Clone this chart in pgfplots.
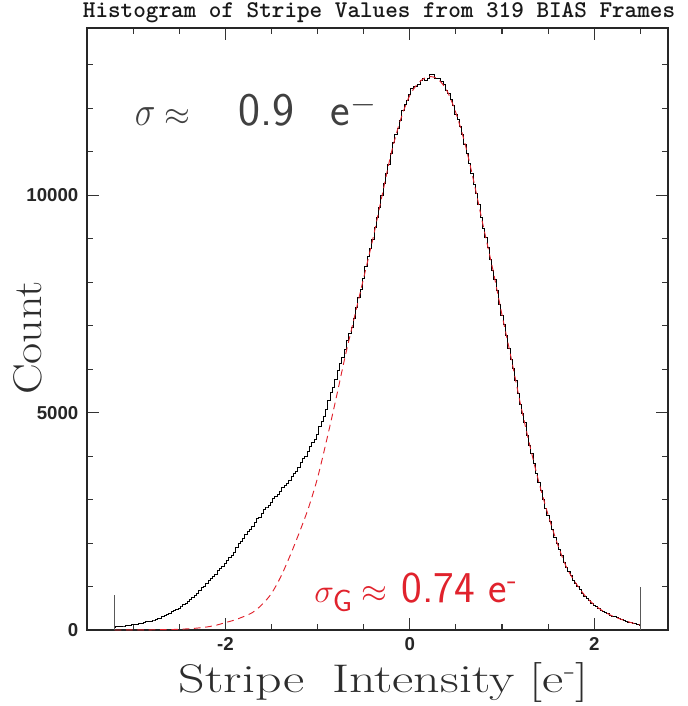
\documentclass[border=0pt]{standalone}
\usepackage{pgfplots}
\pgfplotsset{compat=1.18}
\usepackage{fontspec}
\newfontfamily\tickfont{Liberation Sans}
\definecolor{fitred}{RGB}{224,34,44}
\definecolor{txtgray}{RGB}{45,45,45}

\begin{document}
\begin{tikzpicture}
\begin{axis}[
  name=ax,
  at={(0,0)}, anchor=south west,
  scale only axis,
  width=435.75pt, height=451.5pt,
  xmin=-3.5, xmax=2.8, ymin=0, ymax=13850,
  scaled y ticks=false, scaled x ticks=false,
  xtick={-2,0,2}, xticklabels={-2,0,2},
  ytick={0,5000,10000}, yticklabels={0,5000,10000},
  minor xtick={-3,-2.5,-1.5,-1,-0.5,0.5,1,1.5,2.5},
  minor ytick={1000,2000,3000,4000,6000,7000,8000,9000,11000,12000,13000},
  tick align=inside,
  major tick length=9pt, minor tick length=4.5pt,
  axis line style={line width=0.9pt, black!85},
  every tick/.style={line width=0.8pt, black!80},
  ticklabel style={font=\tickfont\bfseries\fontsize{14}{14}\selectfont, text=black!85},
  yticklabel style={xshift=-3pt},
  xticklabel style={yshift=-2pt},
  title={\ttfamily\bfseries\fontsize{18}{18}\selectfont Histogram of Stripe Values from 319 BIAS Frames},
  title style={at={(axis description cs:0.5026,1.0035)}, anchor=base, inner sep=0pt, text=black!90},
  xlabel={\scalebox{1.3}[1]{\fontsize{30}{30}\selectfont Stripe\hspace{16pt}Intensity\hspace{9pt}[e\textsuperscript{-}]}},
  xlabel style={at={(axis description cs:0.511,-0.103)}, anchor=base, inner sep=0pt, text=txtgray},
  ylabel={\scalebox{1.15}[1]{\fontsize{30}{30}\selectfont Count}},
  ylabel style={at={(axis description cs:-0.0775,0.485)}, anchor=base, inner sep=0pt, text=txtgray},
]
% histogram of stripe values (bin centres, counts)
\addplot[const plot mark mid, black, line width=0.7pt] coordinates {
(-3.200,60) (-3.175,70) (-3.150,75) (-3.125,86) (-3.100,92) (-3.075,93) (-3.050,98) (-3.025,110)
(-3.000,118) (-2.975,122) (-2.950,132) (-2.925,148) (-2.900,158) (-2.875,170) (-2.850,190) (-2.825,194)
(-2.800,205) (-2.775,230) (-2.750,246) (-2.725,258) (-2.700,275) (-2.675,310) (-2.650,336) (-2.625,350)
(-2.600,372) (-2.575,418) (-2.550,455) (-2.525,474) (-2.500,503) (-2.475,552) (-2.450,590) (-2.425,615)
(-2.400,652) (-2.375,712) (-2.350,760) (-2.325,795) (-2.300,842) (-2.275,912) (-2.250,968) (-2.225,1005)
(-2.200,1060) (-2.175,1135) (-2.150,1195) (-2.125,1230) (-2.100,1280) (-2.075,1360) (-2.050,1420) (-2.025,1458)
(-2.000,1522) (-1.975,1605) (-1.950,1668) (-1.925,1720) (-1.900,1790) (-1.875,1905) (-1.850,1995) (-1.825,2040)
(-1.800,2110) (-1.775,2205) (-1.750,2275) (-1.725,2315) (-1.700,2380) (-1.675,2480) (-1.650,2555) (-1.625,2600)
(-1.600,2672) (-1.575,2765) (-1.550,2830) (-1.525,2865) (-1.500,2925) (-1.475,3015) (-1.450,3080) (-1.425,3118)
(-1.400,3180) (-1.375,3275) (-1.350,3335) (-1.325,3370) (-1.300,3440) (-1.275,3540) (-1.250,3605) (-1.225,3650)
(-1.200,3740) (-1.175,3860) (-1.150,3945) (-1.125,4000) (-1.100,4100) (-1.075,4225) (-1.050,4320) (-1.025,4390)
(-1.000,4510) (-0.975,4680) (-0.950,4805) (-0.925,4920) (-0.900,5080) (-0.875,5290) (-0.850,5455) (-0.825,5580)
(-0.800,5770) (-0.775,5980) (-0.750,6135) (-0.725,6270) (-0.700,6460) (-0.675,6660) (-0.650,6820) (-0.625,6960)
(-0.600,7160) (-0.575,7420) (-0.550,7640) (-0.525,7840) (-0.500,8090) (-0.475,8370) (-0.450,8600) (-0.425,8770)
(-0.400,8990) (-0.375,9270) (-0.350,9500) (-0.325,9720) (-0.300,9990) (-0.275,10270) (-0.250,10500) (-0.225,10700)
(-0.200,10960) (-0.175,11210) (-0.150,11400) (-0.125,11540) (-0.100,11720) (-0.075,11950) (-0.050,12100) (-0.025,12180)
(0.000,12320) (0.025,12450) (0.050,12510) (0.075,12500) (0.100,12560) (0.125,12650) (0.150,12680) (0.175,12640)
(0.200,12700) (0.225,12790) (0.250,12780) (0.275,12700) (0.300,12690) (0.325,12680) (0.350,12620) (0.375,12560)
(0.400,12420) (0.425,12340) (0.450,12200) (0.475,12060) (0.500,11860) (0.525,11750) (0.550,11580) (0.575,11390)
(0.600,11160) (0.625,10970) (0.650,10740) (0.675,10510) (0.700,10240) (0.725,10050) (0.750,9800) (0.775,9500)
(0.800,9240) (0.825,9040) (0.850,8800) (0.875,8520) (0.900,8280) (0.925,8060) (0.950,7800) (0.975,7490)
(1.000,7230) (1.025,7020) (1.050,6770) (1.075,6480) (1.100,6230) (1.125,6010) (1.150,5740) (1.175,5440)
(1.200,5180) (1.225,4990) (1.250,4770) (1.275,4480) (1.300,4240) (1.325,4060) (1.350,3840) (1.375,3590)
(1.400,3390) (1.425,3220) (1.450,3010) (1.475,2800) (1.500,2640) (1.525,2490) (1.550,2320) (1.575,2130)
(1.600,1980) (1.625,1860) (1.650,1710) (1.675,1550) (1.700,1430) (1.725,1350) (1.750,1250) (1.775,1140)
(1.800,1070) (1.825,1010) (1.850,940) (1.875,850) (1.900,780) (1.925,735) (1.950,680) (1.975,615)
(2.000,570) (2.025,540) (2.050,505) (2.075,458) (2.100,425) (2.125,402) (2.150,375) (2.175,340)
(2.200,315) (2.225,300) (2.250,282) (2.275,255) (2.300,236) (2.325,222) (2.350,204) (2.375,180)
(2.400,166) (2.425,156) (2.450,142) (2.475,124) (2.500,112)
};
% Gaussian fit
\addplot[fitred, dashed, dash pattern=on 5pt off 3.5pt, line width=0.7pt, smooth] coordinates {
(-3.2,0) (-3.0,2) (-2.8,5) (-2.6,10) (-2.5,17) (-2.4,28) (-2.3,45) (-2.2,70) (-2.1,110)
(-2.0,170) (-1.9,230) (-1.8,310) (-1.7,410) (-1.6,590) (-1.5,840) (-1.4,1220) (-1.3,1700)
(-1.2,2230) (-1.1,2800) (-1.0,3500) (-0.9,4380) (-0.8,5320) (-0.7,6300) (-0.6,7200) (-0.5,8100)
(-0.4,9000) (-0.3,10000) (-0.2,10980) (-0.1,11740) (0.0,12300) (0.1,12600) (0.2,12730) (0.3,12680)
(0.4,12420) (0.5,11900) (0.6,11180) (0.7,10260) (0.8,9260) (0.9,8300) (1.0,7250) (1.1,6250)
(1.2,5200) (1.3,4260) (1.4,3400) (1.5,2650) (1.6,1990) (1.7,1440) (1.8,1080) (1.9,790)
(2.0,580) (2.1,430) (2.2,320) (2.3,240) (2.4,170) (2.5,115)
};
% range markers
\addplot[black!65, line width=0.8pt] coordinates {(-3.2,0) (-3.2,800)};
\addplot[black!65, line width=0.8pt] coordinates {(2.5,0) (2.5,1000)};
% annotations
\node[anchor=base west, inner sep=0pt, text=black!75, font=\sffamily\fontsize{35}{35}\selectfont]
  at (axis cs:-2.984,11609) {\scalebox{1.05}[1.25]{$\sigma$}\hspace{7pt}$\approx$\hspace{36pt}0.9\hspace{27pt}e$^{-}$};
\node[anchor=base west, inner sep=0pt, text=fitred, font=\sffamily\fontsize{33}{33}\selectfont]
  at (axis cs:-1.038,644) {$\sigma_{\mathsf{G}}\approx$ 0.74 e\textsuperscript{-}};
\end{axis}
\path ([xshift=-65.25pt,yshift=-57pt]ax.south west) rectangle ([xshift=15pt,yshift=21pt]ax.north east);
\end{tikzpicture}
\end{document}
